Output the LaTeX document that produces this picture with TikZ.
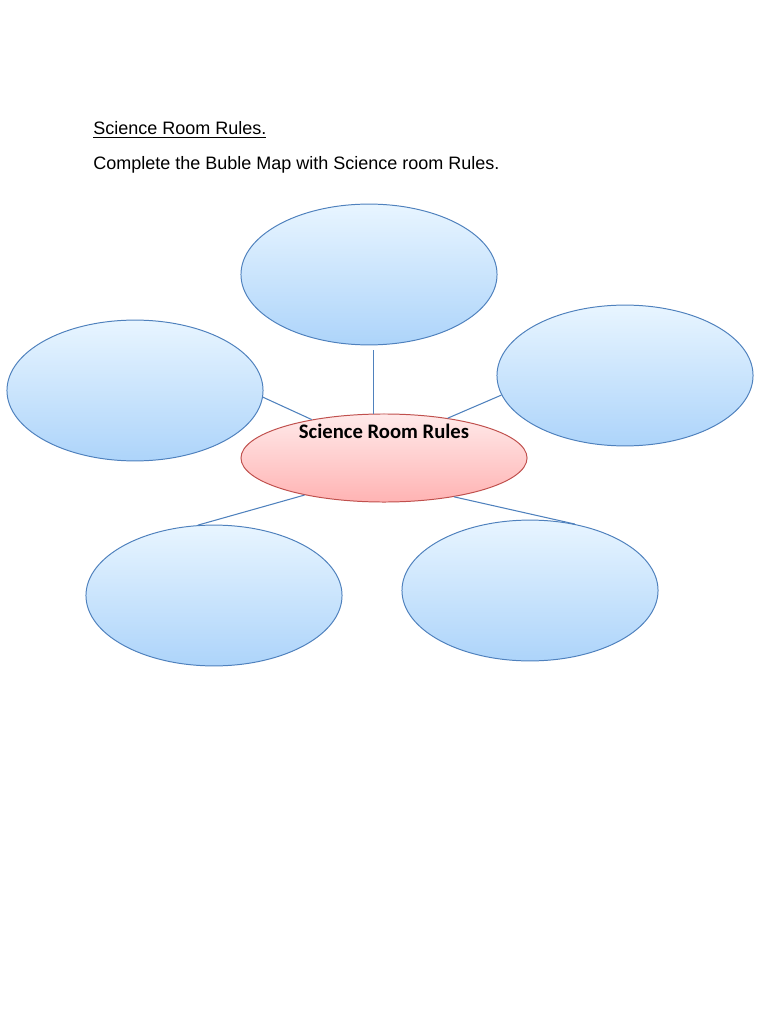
\documentclass[tikz,border=0pt]{standalone}
\usepackage{fontspec}
\setmainfont{Liberation Sans}
\newfontfamily\calibrifont{Carlito}
\usepackage{tikz}
\usetikzlibrary{shapes.geometric, positioning}
\definecolor{bubbleedge}{HTML}{4F81BD}
\definecolor{bubbletop}{HTML}{E8F5FF}
\definecolor{bubblebot}{HTML}{ADD4FA}
\definecolor{hubedge}{HTML}{C0504D}
\definecolor{hubtop}{HTML}{FFEAEA}
\definecolor{hubbot}{HTML}{FFB3B3}

\begin{document}
\begin{tikzpicture}[
	x=0.025cm, y=-0.025cm,
	bubble/.style={ellipse, draw=bubbleedge, line width=0.7pt, top color=bubbletop, bottom color=bubblebot, minimum width=6.4cm, minimum height=3.52cm, inner sep=0pt},
	hubnode/.style={ellipse, draw=hubedge, line width=0.7pt, top color=hubtop, bottom color=hubbot, minimum width=7.15cm, minimum height=2.2cm, inner sep=0pt},
	spoke/.style={draw=bubbleedge, line width=0.75pt}
]
\useasboundingbox (0,0) rectangle (768,1024);

% heading
\node[anchor=base west, inner sep=0pt, font=\fontsize{12.8}{15}\selectfont] (title) at (93,135) {\underline{Science Room Rules.}};
\node[anchor=base west, inner sep=0pt, font=\fontsize{12.8}{15}\selectfont] (task) at (93,170) {Complete the Buble Map with Science room Rules.};

% bubbles
\node[bubble] (rtop) at (369,274.5) {};
\node[bubble] (rleft) at (135,390.5) {};
\node[bubble] (rright) at (625,375.5) {};
\node[bubble] (rbl) at (214,595.5) {};
\node[bubble] (rbr) at (530,590.5) {};

% centre
\node[hubnode] (hub) at (384,458) {};
\node[font=\calibrifont\bfseries\fontsize{14.7}{17}\selectfont, inner sep=0pt] (hubtext) at (384,431) {Science Room Rules};

% spokes
\draw[spoke, shorten >=0.125cm] (hub.103) -- (hub.103 |- rtop.south);
\draw[spoke] (rleft.-3) -- (hub.152);
\draw[spoke] (rright.189) -- (hub.32);
\draw[spoke] (hub.205) -- (rbl.103);
\draw[spoke] (hub.-29) -- (rbr.56);
\end{tikzpicture}
\end{document}
